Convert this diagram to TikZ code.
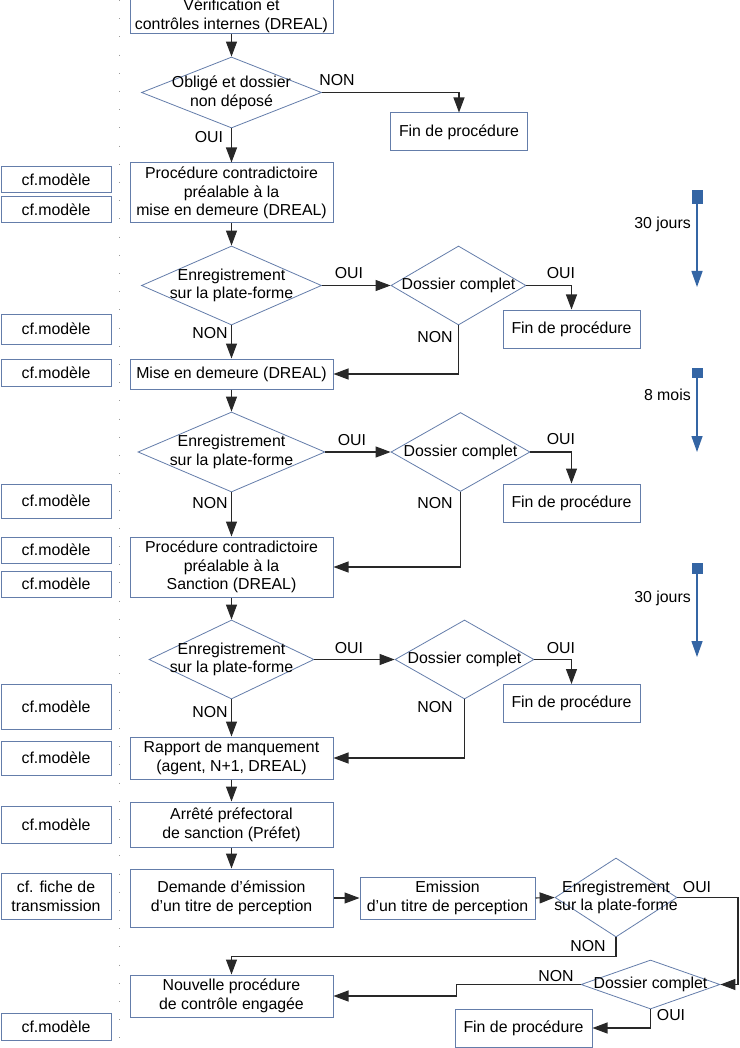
\documentclass[tikz,border=0pt]{standalone}
\usepackage{fontspec}
\setmainfont{Liberation Sans}
\usetikzlibrary{arrows.meta,shapes.geometric}
\definecolor{bord}{RGB}{100,125,170}
\definecolor{tl}{RGB}{52,101,164}
\definecolor{conn}{RGB}{40,40,40}
\begin{document}
\begin{tikzpicture}[x=0.75pt,y=-0.75pt,
  font=\fontsize{11.9}{14}\selectfont,
  box/.style={draw=bord, line width=0.75pt, minimum width=152.25pt, inner sep=0pt, align=center},
  cfbox/.style={draw=bord, line width=0.75pt, minimum width=82.5pt, inner sep=0pt, align=center},
  finbox/.style={draw=bord, line width=0.75pt, minimum width=102.75pt, minimum height=28.5pt, inner sep=0pt},
  dia/.style={shape=diamond, draw=bord, line width=0.6pt, inner sep=0pt},
  lbl/.style={inner sep=0pt},
  arr/.style={draw=conn, line width=0.8pt, -{Triangle[length=11.25pt,width=8.25pt]}, color=conn},
  sq/.style={fill=tl, draw=none, minimum width=8.25pt, inner sep=0pt},
  tlarrow/.style={draw=tl, line width=1pt, -{Triangle[length=12pt,width=8.25pt]}, tl},
]
\useasboundingbox (0,0) rectangle (739,1048);
\fill[white] (0,0) rectangle (739,1048);
% dotted separator
\draw[gray!80, line width=0.75pt, dash pattern=on 0.75pt off 12.9pt] (119,0) -- (119,1048);

% main column
\node[box, minimum height=27pt] (b1) at (231.5,16) {Vérification et\\contrôles internes (DREAL)};
\node[dia, minimum width=135pt, minimum height=53.25pt] (d1) at (231.5,92.5) {};
\node[lbl, align=center] at (d1) {Obligé et dossier\\non déposé};
\node[finbox] (fin1) at (459,132) {Fin de procédure};
\node[box, minimum height=45pt] (b2) at (231.5,193) {Procédure contradictoire\\préalable à la\\mise en demeure (DREAL)};

\node[dia, minimum width=135pt, minimum height=59.25pt] (d2) at (231.5,285.5) {};
\node[lbl, align=center] at (d2) {Enregistrement\\sur la plate-forme};
\node[dia, minimum width=101.25pt, minimum height=59.25pt] (dc1) at (458.5,285.5) {};
\node[lbl] at (dc1) {Dossier complet};
\node[finbox] (fin2) at (571.5,329) {Fin de procédure};
\node[box, minimum height=22.5pt] (mise) at (231.5,374) {Mise en demeure (DREAL)};

\node[dia, minimum width=140.25pt, minimum height=60pt] (d3) at (231.5,452) {};
\node[lbl, align=center] at (d3) {Enregistrement\\sur la plate-forme};
\node[dia, minimum width=104.25pt, minimum height=59.25pt] (dc2) at (460.5,452) {};
\node[lbl] at (dc2) {Dossier complet};
\node[finbox] (fin3) at (571.5,503) {Fin de procédure};
\node[box, minimum height=45pt] (b3) at (231.5,567) {Procédure contradictoire\\préalable à la\\Sanction (DREAL)};

\node[dia, minimum width=123.75pt, minimum height=59.25pt] (d4) at (231.5,659.5) {};
\node[lbl, align=center] at (d4) {Enregistrement\\sur la plate-forme};
\node[dia, minimum width=104.25pt, minimum height=59.25pt] (dc3) at (464.5,659.5) {};
\node[lbl] at (dc3) {Dossier complet};
\node[finbox] (fin4) at (571.5,703.5) {Fin de procédure};
\node[box, minimum height=31.5pt] (b4) at (231.5,758) {Rapport de manquement\\(agent, N+1, DREAL)};
\node[box, minimum height=33.75pt] (b5) at (231.5,824.5) {Arrêté préfectoral\\de sanction (Préfet)};
\node[box, minimum height=43.5pt] (b6) at (231.5,898) {Demande d’émission\\d’un titre de perception};
\node[draw=bord, line width=0.75pt, minimum width=131.25pt, minimum height=31.5pt, inner sep=0pt, align=center] (emis) at (447.5,898) {Emission\\d’un titre de perception};
\node[dia, minimum width=91.5pt, minimum height=59.25pt] (d5) at (616,897.5) {};
\node[lbl, align=center] at (d5) {Enregistrement\\sur la plate-forme};
\node[dia, minimum width=104.25pt, minimum height=36.75pt] (dc4) at (650.5,984.5) {};
\node[lbl] at (dc4) {Dossier complet};
\node[box, minimum height=31.5pt] (nouv) at (231.5,996) {Nouvelle procédure\\de contrôle engagée};
\node[finbox] (fin5) at (523.5,1028) {Fin de procédure};
\coordinate (r5) at (738,897.5);

% cf boxes
\node[cfbox, minimum height=19.5pt] (cf1) at (56,180) {cf.modèle};
\node[cfbox, minimum height=19.5pt] (cf2) at (56,210) {cf.modèle};
\node[cfbox, minimum height=22.5pt] (cf3) at (56,329) {cf.modèle};
\node[cfbox, minimum height=20.25pt] (cf4) at (56,372.5) {cf.modèle};
\node[cfbox, minimum height=25.5pt] (cf5) at (56,501) {cf.modèle};
\node[cfbox, minimum height=19.5pt] (cf6) at (56,550) {cf.modèle};
\node[cfbox, minimum height=19.5pt] (cf7) at (56,584) {cf.modèle};
\node[cfbox, minimum height=33.75pt] (cf8) at (56,706.5) {cf.modèle};
\node[cfbox, minimum height=25.5pt] (cf9) at (56,758) {cf.modèle};
\node[cfbox, minimum height=27.75pt] (cf10) at (56,824.5) {cf.modèle};
\node[cfbox, minimum height=34.5pt] (cff) at (56,896) {cf. fiche de\\transmission};
\node[cfbox, minimum height=20.25pt] (cf11) at (56,1026.5) {cf.modèle};

% connectors
\draw[arr] (b1.south) -- (d1.north);
\draw[arr] (d1.east) -| (fin1.north);
\draw[arr] (d1.south) -- (b2.north);
\draw[arr] (b2.south) -- (d2.north);
\draw[arr] (d2.east) -- (dc1.west);
\draw[arr] (dc1.east) -| (fin2.north);
\draw[arr] (dc1.south) |- (mise.east);
\draw[arr] (d2.south) -- (mise.north);
\draw[arr] (mise.south) -- (d3.north);
\draw[arr] (d3.east) -- (dc2.west);
\draw[arr] (dc2.east) -| (fin3.north);
\draw[arr] (dc2.south) |- (b3.east);
\draw[arr] (d3.south) -- (b3.north);
\draw[arr] (b3.south) -- (d4.north);
\draw[arr] (d4.east) -- (dc3.west);
\draw[arr] (dc3.east) -| (fin4.north);
\draw[arr] (dc3.south) |- (b4.east);
\draw[arr] (d4.south) -- (b4.north);
\draw[arr] (b4.south) -- (b5.north);
\draw[arr] (b5.south) -- (b6.north);
\draw[arr] (b6.east) -- (emis.west);
\draw[arr] (emis.east) -- (d5.west);
\draw[arr] (d5.east) -- (r5) |- (dc4.east);
\draw[arr] (d5.south) -- ++(0,19) -| (nouv.north);
\draw[arr] (dc4.west) -- ++(-124,0) |- (nouv.east);
\draw[arr] (dc4.south) |- (fin5.east);

% labels
\node[lbl] at (337,80) {NON};
\node[lbl] at (209,137) {OUI};
\node[lbl] at (349,273) {OUI};
\node[lbl] at (561,273) {OUI};
\node[lbl] at (435,337) {NON};
\node[lbl] at (210,333) {NON};
\node[lbl] at (352,440) {OUI};
\node[lbl] at (561,439) {OUI};
\node[lbl] at (435,503) {NON};
\node[lbl] at (210,503) {NON};
\node[lbl] at (349,648) {OUI};
\node[lbl] at (561,648) {OUI};
\node[lbl] at (435,707) {NON};
\node[lbl] at (210,712) {NON};
\node[lbl] at (697,887) {OUI};
\node[lbl] at (588,946) {NON};
\node[lbl] at (556,976) {NON};
\node[lbl] at (671,1015) {OUI};

% timeline
\node[sq, minimum height=10.5pt] (t1) at (697,197) {};
\coordinate (t1e) at (697,287);
\draw[tlarrow] (t1.south) -- (t1e);
\node[lbl, anchor=east] at (691,224) {30 jours};
\node[sq, minimum height=7.5pt] (t2) at (697,372.5) {};
\coordinate (t2e) at (697,452);
\draw[tlarrow] (t2.south) -- (t2e);
\node[lbl, anchor=east] at (691,395) {8 mois};
\node[sq, minimum height=8.25pt] (t3) at (697,568.5) {};
\coordinate (t3e) at (697,657);
\draw[tlarrow] (t3.south) -- (t3e);
\node[lbl, anchor=east] at (691,598) {30 jours};
\end{tikzpicture}
\end{document}
